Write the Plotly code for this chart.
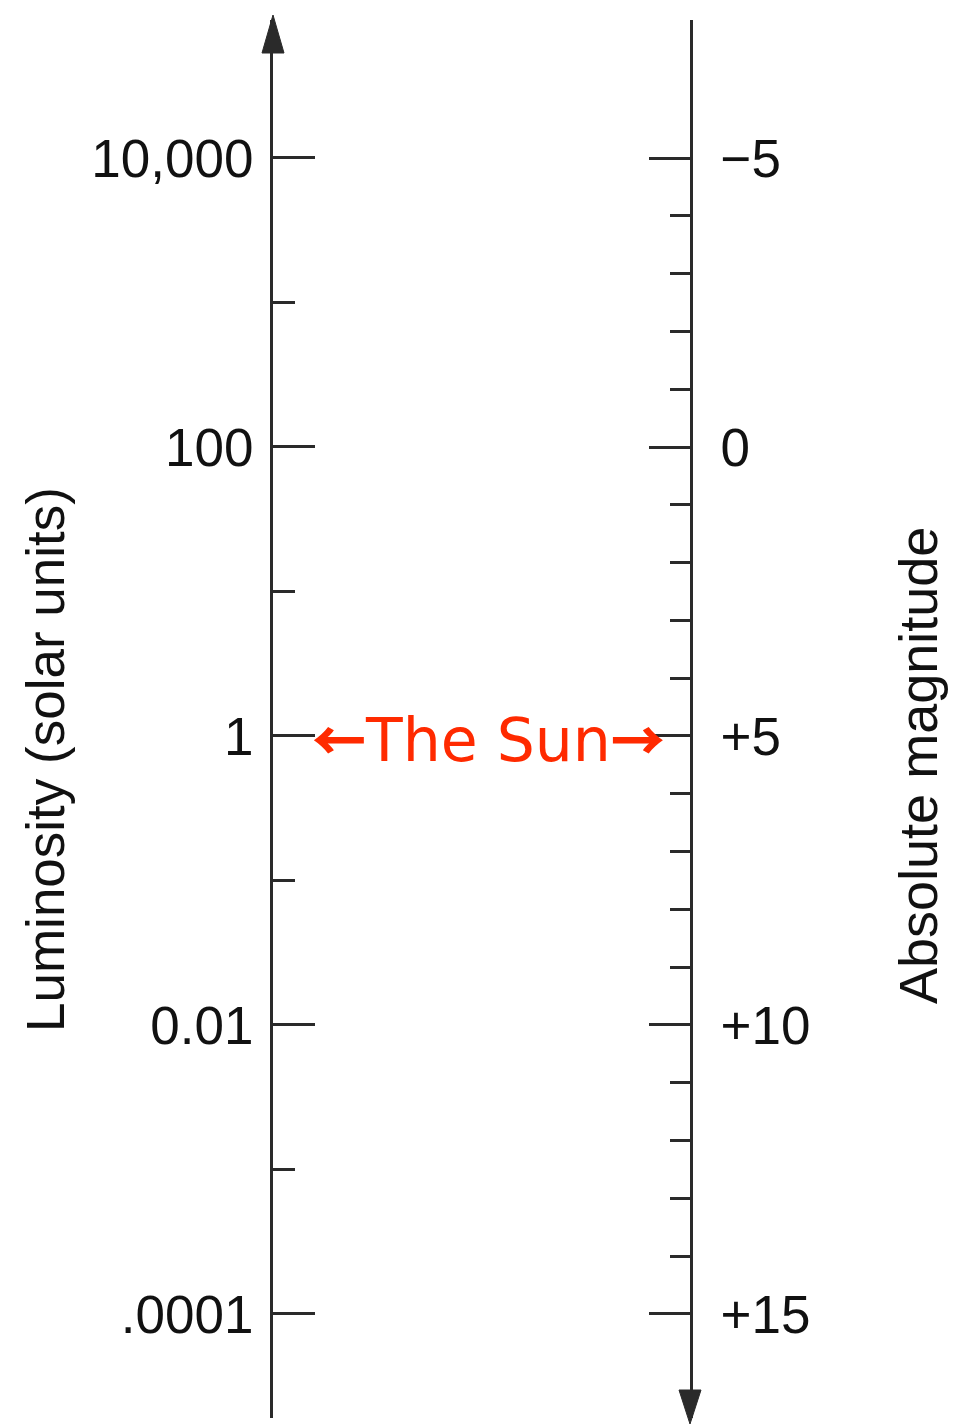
import plotly.graph_objects as go

# ---- data ----
lum_tickvals = [1e4, 1e2, 1, 1e-2, 1e-4]
lum_ticktext = ["10,000", "100", "1", "0.01", ".0001"]
lum_minor = [1e3, 10, 0.1, 1e-3]

mag_tickvals = [-5, 0, 5, 10, 15]
mag_ticktext = ["\u22125", "0", "+5", "+10", "+15"]
mag_minor = [-4, -3, -2, -1, 1, 2, 3, 4, 6, 7, 8, 9, 11, 12, 13, 14]

sun_luminosity = [1]
sun_magnitude = [5]
sun_name = "The Sun"

left_title = "Luminosity (solar units)"
right_title = "Absolute magnitude"

# ---- layout geometry (pixels) ----
W, H = 953, 1428
x_left, x_right = 273, 690
y_top, y_bot = 20, 1418
plot_w = x_right - x_left
plot_h = y_bot - y_top

def px_to_paper_x(px):
    return (px - x_left) / plot_w

def px_to_paper_y(py):
    return (y_bot - py) / plot_h

AX_COL = "#2a2a2a"
TXT_COL = "#111111"
TICK_FONT = dict(family="Liberation Sans, Arial, sans-serif", size=53, color=TXT_COL)

fig = go.Figure()
fig.add_trace(go.Scatter(x=[0.5], y=sun_luminosity, yaxis="y", mode="markers",
                         marker=dict(opacity=0), showlegend=False, hoverinfo="skip"))
fig.add_trace(go.Scatter(x=[0.5], y=sun_magnitude, yaxis="y2", mode="markers",
                         marker=dict(opacity=0), showlegend=False, hoverinfo="skip"))

fig.update_layout(
    width=W, height=H,
    margin=dict(l=x_left, r=W - x_right, t=y_top, b=H - y_bot, pad=0),
    paper_bgcolor="white", plot_bgcolor="white",
    showlegend=False,
    xaxis=dict(visible=False, range=[0, 1], fixedrange=True),
    yaxis=dict(
        type="log", range=[-4.72, 4.955],
        side="left", showgrid=False, zeroline=False,
        showline=True, linecolor=AX_COL, linewidth=3,
        ticks="inside", ticklen=42, tickwidth=2.5, tickcolor=AX_COL,
        tickvals=lum_tickvals, ticktext=lum_ticktext,
        tickfont=TICK_FONT, ticklabelstandoff=6,
        minor=dict(tickvals=lum_minor, ticks="inside", ticklen=22,
                   tickwidth=2.5, tickcolor=AX_COL, showgrid=False),
    ),
    yaxis2=dict(
        overlaying="y", side="right", anchor="x",
        range=[16.8, -7.388], showgrid=False, zeroline=False,
        showline=True, linecolor=AX_COL, linewidth=3,
        ticks="inside", ticklen=41, tickwidth=2.5, tickcolor=AX_COL,
        tickvals=mag_tickvals, ticktext=mag_ticktext,
        tickfont=TICK_FONT, ticklabelstandoff=17,
        minor=dict(tickvals=mag_minor, ticks="inside", ticklen=20,
                   tickwidth=2.5, tickcolor=AX_COL, showgrid=False),
    ),
)

# arrowheads at axis ends
def tri(xc, ytip, ybase, half):
    x0 = px_to_paper_x(xc - half)
    x1 = px_to_paper_x(xc + half)
    xm = px_to_paper_x(xc)
    return f"M {x0} {px_to_paper_y(ybase)} L {xm} {px_to_paper_y(ytip)} L {x1} {px_to_paper_y(ybase)} Z"

fig.add_shape(type="path", xref="paper", yref="paper", path=tri(x_left, 15, 53, 11),
              fillcolor=AX_COL, line=dict(color=AX_COL, width=1))
fig.add_shape(type="path", xref="paper", yref="paper", path=tri(x_right, 1424, 1390, 11),
              fillcolor=AX_COL, line=dict(color=AX_COL, width=1))

# The Sun label
arrow_style = "font-family:'Noto Sans CJK JP';font-size:54px;font-weight:900"
sun_label = (f"<span style=\"{arrow_style}\">\u2190</span>{sun_name}"
             f"<span style=\"{arrow_style}\">\u2192</span>")
fig.add_annotation(text=sun_label, xref="paper", yref="y", x=px_to_paper_x(488.5), y=0,
                   xanchor="center", yanchor="middle", showarrow=False, yshift=-2,
                   font=dict(family="DejaVu Sans", size=60, color="#FF2A00"))

# axis titles
fig.add_annotation(text=left_title, xref="paper", yref="paper",
                   x=px_to_paper_x(45), y=px_to_paper_y(759), textangle=-90,
                   xanchor="center", yanchor="middle", showarrow=False,
                   font=dict(family="Liberation Sans, Arial, sans-serif", size=53, color=TXT_COL))
fig.add_annotation(text=right_title, xref="paper", yref="paper",
                   x=px_to_paper_x(918), y=px_to_paper_y(766), textangle=-90,
                   xanchor="center", yanchor="middle", showarrow=False,
                   font=dict(family="Liberation Sans, Arial, sans-serif", size=54, color=TXT_COL))

fig.write_html("out.html")
